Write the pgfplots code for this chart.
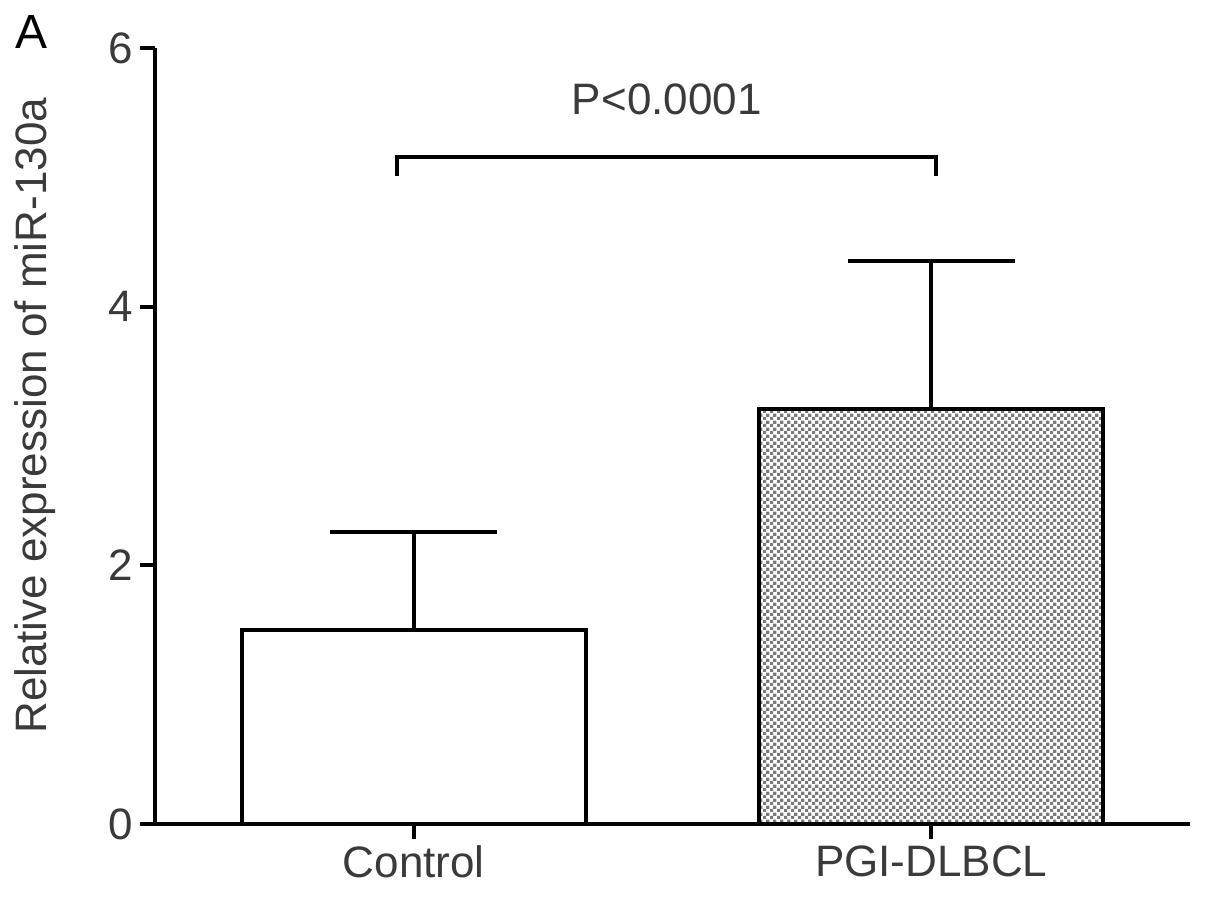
\documentclass[border=0pt]{standalone}
\usepackage{pgfplots}
\pgfplotsset{compat=1.18}
\usepackage{fontspec}
\setmainfont{Liberation Sans}
\usetikzlibrary{patterns}
\pgfdeclarepatternformonly{checker}{\pgfpointorigin}{\pgfpoint{3.6pt}{3.6pt}}{\pgfpoint{3.6pt}{3.6pt}}{%
  \pgfpathrectangle{\pgfpointorigin}{\pgfpoint{1.8pt}{1.8pt}}%
  \pgfpathrectangle{\pgfpoint{1.8pt}{1.8pt}}{\pgfpoint{1.8pt}{1.8pt}}%
  \pgfusepath{fill}}
\definecolor{txt}{HTML}{3A3A3A}
\definecolor{dotgray}{HTML}{7A7A7A}
\begin{document}
\begin{tikzpicture}
\begin{axis}[
  scale only axis,
  width=517.5pt, height=388pt,
  xmin=-0.5, xmax=1.5, ymin=0, ymax=6,
  axis lines=left,
  axis line style={line width=2pt, -},
  xtick={0,1}, xticklabels={Control,PGI-DLBCL},
  ytick={0,2,4,6},
  tick align=outside,
  major tick length=7.5pt,
  tick style={line width=2pt, black},
  font=\fontsize{22}{26}\selectfont\color{txt},
  tick label style={font=\fontsize{22}{26}\selectfont\color{txt}},
  /pgf/number format/assume math mode=true,
  ylabel={Relative expression of miR-130a},
  ylabel style={at={(axis description cs:-0.116,0.526)}, anchor=center, font=\fontsize{22}{26}\selectfont\color{txt}},
  clip=false,
]
\addplot[ybar, bar width=172pt, bar shift=0pt, draw=black, line width=2pt, fill=white,
  error bars/.cd, y dir=plus, y explicit,
  error bar style={line width=2pt, black},
  error mark options={line width=2pt, black, mark size=41.75pt, rotate=90}]
  coordinates {(0,1.50) +- (0,0.76)};
\addplot[ybar, bar width=172pt, bar shift=0pt, draw=black, line width=2pt, pattern=checker, pattern color=dotgray,
  error bars/.cd, y dir=plus, y explicit,
  error bar style={line width=2pt, black},
  error mark options={line width=2pt, black, mark size=41.75pt, rotate=90}]
  coordinates {(1,3.21) +- (0,1.14)};
\addplot[black, line width=2pt, mark=none] coordinates {(-0.033,5.01) (-0.033,5.16) (1.01,5.16) (1.01,5.01)};
\node[font=\fontsize{22}{26}\selectfont, text=txt] at (axis cs:0.489,5.6) {P<0.0001};
\node[font=\fontsize{24}{28}\selectfont, text=black] at (axis description cs:-0.119,1.02) {A};
\end{axis}
\useasboundingbox (-77.5pt,-40.5pt) rectangle (525pt,412pt);
\end{tikzpicture}
\end{document}
